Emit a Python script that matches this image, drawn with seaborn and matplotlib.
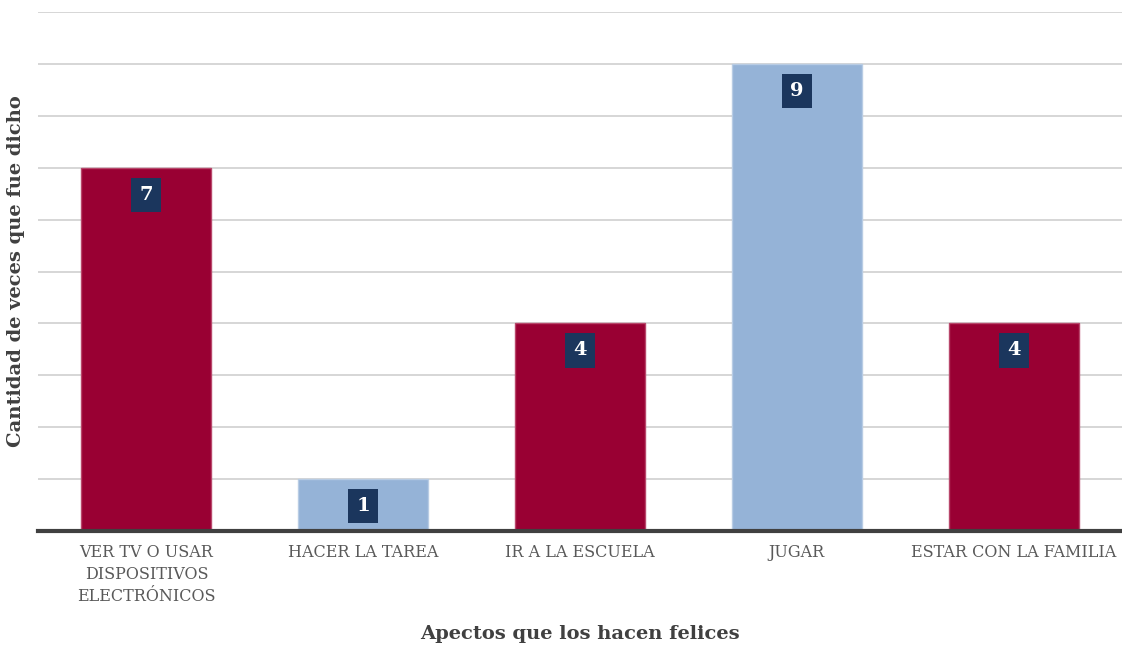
import matplotlib
matplotlib.use("Agg")
import matplotlib.pyplot as plt
import matplotlib.transforms as mtransforms
import seaborn as sns
import pandas as pd

categorias = [
    "VER TV O USAR\nDISPOSITIVOS\nELECTRÓNICOS",
    "HACER LA TAREA",
    "IR A LA ESCUELA",
    "JUGAR",
    "ESTAR CON LA FAMILIA",
]
valores = [7, 1, 4, 9, 4]
colores = ["#990033", "#95B3D7", "#990033", "#95B3D7", "#990033"]
bordes = ["#B8476B", "#B8CCE4", "#B8476B", "#B8CCE4", "#B8476B"]

sns.set_theme(style="white")
plt.rcParams["font.family"] = ["DejaVu Serif"]

df = pd.DataFrame({"aspecto": categorias, "veces": valores})

fig = plt.figure(figsize=(11.22, 6.45), dpi=100)
ax = fig.add_axes([38 / 1122, 1 - 531 / 645, (1122 - 38) / 1122, (531 - 12) / 645])

sns.barplot(
    data=df, x="aspecto", y="veces", hue="aspecto",
    palette=dict(zip(categorias, colores)), legend=False,
    width=0.6, saturation=1, ax=ax, zorder=3,
)
for patch, borde in zip(ax.patches, bordes):
    patch.set_edgecolor(borde)
    patch.set_linewidth(1)

ax.set_ylim(0, 10)
ax.set_xlim(-0.5, 4.5)
ax.set_yticks(range(1, 11))
ax.set_yticklabels([])
ax.tick_params(axis="y", length=0)
ax.tick_params(axis="x", length=0, labelbottom=False)
ax.set_xlabel("")
ax.grid(axis="y", color="#d0d0d0", linewidth=1.2, zorder=0)
for s in ("top", "right", "left"):
    ax.spines[s].set_visible(False)
ax.spines["bottom"].set_color("#404040")
ax.spines["bottom"].set_linewidth(3)
ax.spines["bottom"].set_zorder(4)

# category names under each bar, with wider line spacing
base = mtransforms.blended_transform_factory(ax.transData, ax.transAxes)
etiq = mtransforms.offset_copy(base, fig=fig, x=0, y=-13, units="dots")
for i, cat in enumerate(categorias):
    ax.text(i, 0, cat, transform=etiq, ha="center", va="top", fontsize=11.5,
            color="#595959", linespacing=1.38, clip_on=False)

for i, v in enumerate(valores):
    ax.annotate(
        str(v), (i, v), xytext=(0, -27), textcoords="offset pixels",
        ha="center", va="center", fontsize=14, fontweight="bold", color="white",
        bbox=dict(boxstyle="square,pad=0.42", fc="#1B365D", ec="none"), zorder=5,
    )

fig.text(580 / 1122, 1 - 634 / 645, "Apectos que los hacen felices", fontsize=14,
         fontweight="bold", color="#404040", ha="center", va="center")
ax.set_ylabel("Cantidad de veces que fue dicho", fontsize=14, fontweight="bold",
              color="#404040", labelpad=6)

fig.savefig("out.png", dpi=100)
